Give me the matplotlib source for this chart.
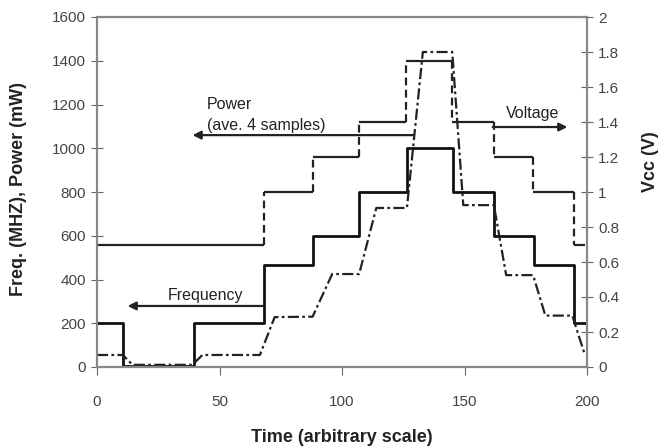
import matplotlib
matplotlib.use("Agg")
import matplotlib.pyplot as plt
from matplotlib.ticker import FormatStrFormatter

plt.rcParams['font.family'] = ['Liberation Sans', 'DejaVu Sans']

# frequency (MHz), step changes at these times
freq_t = [0, 10.5, 39.5, 68, 88, 107, 126.5, 145.5, 162, 178.5, 194.5, 199]
freq_mhz = [200, 5, 200, 466, 600, 800, 1000, 800, 600, 466, 200, 200]

# core voltage (V), step changes at these times
volt_t = [0, 68, 88, 107, 126, 145, 162, 178, 194.5, 199]
volt_v = [0.7, 1.0, 1.2, 1.4, 1.75, 1.4, 1.2, 1.0, 0.7, 0.7]

# power, average of 4 samples (mW)
pow_t = [0, 10.5, 14.5, 39, 43, 66.5, 72.5, 88, 96, 107, 114, 126.5, 133,
         145, 149.5, 162, 167, 178, 183, 194, 199]
pow_mw = [55, 55, 10, 10, 55, 55, 228, 230, 425, 425, 727, 727, 1440,
          1440, 740, 740, 420, 420, 235, 235, 60]

fig = plt.figure(figsize=(6.58, 4.46), dpi=100)
ax = fig.add_axes([97/658, 1-367/446, 490/658, 350/446])
ax2 = ax.twinx()

ax.plot(freq_t, freq_mhz, drawstyle='steps-post', color='#111', lw=2.0)
ax.plot(pow_t, pow_mw, color='#222', lw=1.6, linestyle=(0, (5, 1.5, 1.2, 1.5)))

# voltage: flat parts solid, transitions dashed
ax2.hlines(volt_v[:-1], volt_t[:-1], volt_t[1:], color='#222', lw=1.6)
ax2.vlines(volt_t[1:-1], volt_v[:-2], volt_v[1:-1], color='#222', lw=1.6,
           linestyles=[(0, (3.5, 2))])

ax.set_xlim(0, 200)
ax.set_ylim(0, 1600)
ax2.set_ylim(0, 2)
ax.set_xticks([0, 50, 100, 150, 200])
ax.set_yticks(range(0, 1601, 200))
ax2.set_yticks([0, 0.2, 0.4, 0.6, 0.8, 1.0, 1.2, 1.4, 1.6, 1.8, 2.0])
ax2.yaxis.set_major_formatter(FormatStrFormatter('%g'))

for a in (ax, ax2):
    for s in a.spines.values():
        s.set_color('#888')
        s.set_linewidth(1.5)
ax.tick_params(axis='x', direction='out', length=6, color='#666', labelsize=11,
               labelcolor='#444', pad=14)
ax.tick_params(axis='y', direction='inout', length=9, color='#666', labelsize=11,
               labelcolor='#444')
ax2.tick_params(axis='y', direction='inout', length=9, color='#666', labelsize=11,
                labelcolor='#444')

ax.set_xlabel('Time (arbitrary scale)', fontsize=13, fontweight='bold', color='#222',
              va='center', ha='center')
ax.set_ylabel('Freq. (MHZ), Power (mW)', fontsize=13, fontweight='bold', color='#222',
              va='center', ha='center')
ax2.set_ylabel('Vcc (V)', fontsize=13, fontweight='bold', color='#222',
               va='center', ha='center', rotation=90)
ax.xaxis.set_label_coords(0.5, -0.2)
ax.yaxis.set_label_coords(-0.161, 0.51)
ax2.yaxis.set_label_coords(1.129, 0.586)

arrow = dict(arrowstyle='-|>', color='#222', lw=1.6, mutation_scale=12,
             shrinkA=0, shrinkB=0)
ax.annotate('', xy=(12.5, 279), xytext=(68, 279), arrowprops=arrow)
ax.annotate('', xy=(39, 1060), xytext=(129, 1060), arrowprops=arrow)
ax.annotate('', xy=(192, 1097), xytext=(161.5, 1097), arrowprops=arrow)

ax.text(29, 329, 'Frequency', fontsize=11.5, color='#222', va='center')
ax.text(45, 1198, 'Power', fontsize=11.5, color='#222', va='center')
ax.text(45, 1106, '(ave. 4 samples)', fontsize=11.5, color='#222', va='center')
ax.text(167, 1161, 'Voltage', fontsize=11.5, color='#222', va='center')

fig.savefig('out.png', dpi=100)
